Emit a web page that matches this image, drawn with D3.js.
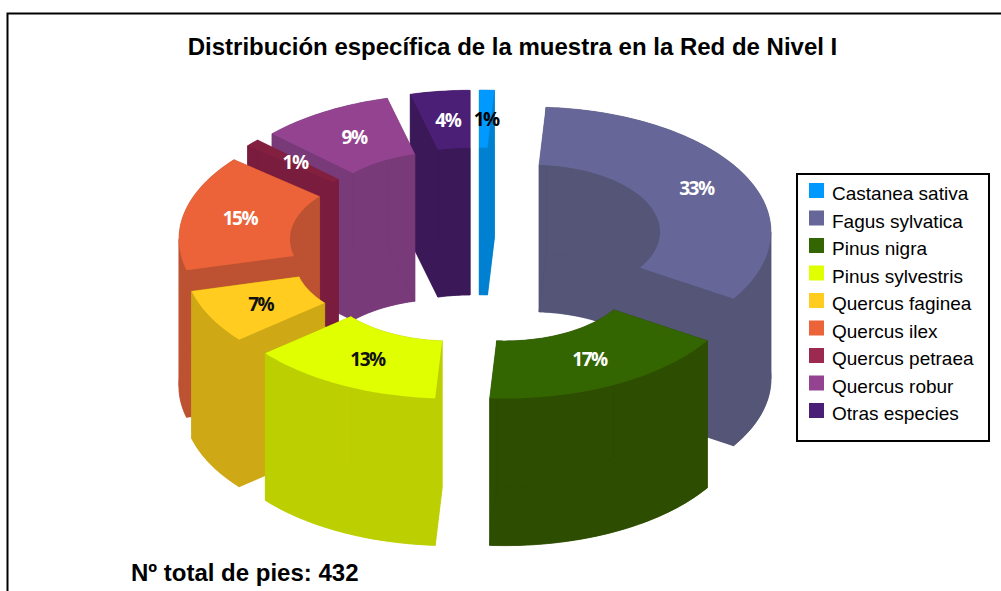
<!DOCTYPE html>
<html>
<head>
<meta charset="utf-8">
<script src="https://cdn.jsdelivr.net/npm/d3@7/dist/d3.min.js"></script>
<style>
html,body{margin:0;padding:0;background:#fff;overflow:hidden}
svg{display:block}
</style>
</head>
<body>
<svg id="chart" width="1001" height="591"></svg>
<script>
const categories = ["Castanea sativa","Fagus sylvatica","Pinus nigra","Pinus sylvestris","Quercus faginea","Quercus ilex","Quercus petraea","Quercus robur","Otras especies"];
const values = [1,33,17,13,7,15,1,9,4];
const topColors = ["#0099ff","#666699","#336600","#e0ff00","#ffcc1f","#ec6339","#832040","#934390","#4b1f76"];
const sideColors = ["#0080d0","#555578","#2d4d00","#bccf00","#cfa816","#bd5232","#7a1c3e","#783a78","#3b1858"];
const legendColors = ["#0099ff","#666699","#336600","#e0ff00","#ffcc1f","#ec6339","#9c2950","#934390","#4b1f76"];
const labelColors = ["#000","#fff","#fff","#111","#111","#fff","#fff","#fff","#fff"];
const title = "Distribución específica de la muestra en la Red de Nivel I";
const footer = "Nº total de pies: 432";

const svg = d3.select("#chart");

// frame (open at the bottom and on the right)
svg.append("path")
  .attr("d","M7.5,591V13.5H1001")
  .attr("fill","none").attr("stroke","#000").attr("stroke-width",2);

svg.append("text").attr("x",512.5).attr("y",55)
  .attr("text-anchor","middle")
  .style("font","bold 24px 'Liberation Sans'")
  .text(title);

svg.append("text").attr("x",131).attr("y",581)
  .style("font","bold 24px 'Liberation Sans'")
  .text(footer);

// projection of the tilted donut
const cx = 477.5, cy = 246, tilt = 0.52, depth = 147, explode = 60;
const outerR = 240, innerR = 129;
const sx = d3.scaleLinear().domain([0,1]).range([0,1]);
const sy = d3.scaleLinear().domain([0,1]).range([0,tilt]);
const pie = d3.pie().sort(null).value(d=>d)
  .startAngle(0).endAngle(2*Math.PI);
const arcs = pie(values).map((a,i)=>{
  const mid = (a.startAngle+a.endAngle)/2;
  return {i, a0:a.startAngle, a1:a.endAngle, mid,
    ox: cx + sx(explode*Math.sin(mid)),
    oy: cy - sy(explode*Math.cos(mid))};
});
const project = (s,r,t,dz=0)=>[s.ox + sx(r*Math.sin(t)), s.oy - sy(r*Math.cos(t)) + dz];
const anglesBetween = (a0,a1)=>{
  const n = Math.max(2,Math.ceil((a1-a0)/(Math.PI/180)));
  return d3.range(n+1).map(j=>a0+(a1-a0)*j/n);
};
const arcPts = (s,r,dz,rev)=>{
  const ts = anglesBetween(s.a0,s.a1);
  if(rev) ts.reverse();
  return ts.map(t=>project(s,r,t,dz));
};
const line = d3.line();
const closed = p => line(p)+"Z";
// a curved wall is split where it folds at the left and right silhouette,
// so each run is one polygon whose fill cannot cancel itself
const folds = [Math.PI/2, 3*Math.PI/2];
const wallRuns = (s,r)=>{
  const cuts = [s.a0, ...folds.filter(f=>f>s.a0 && f<s.a1), s.a1];
  return d3.pairs(cuts).map(([t0,t1])=>{
    const ts = anglesBetween(t0,t1);
    return ts.map(t=>project(s,r,t)).concat(ts.slice().reverse().map(t=>project(s,r,t,depth)));
  });
};

const gSlices = svg.append("g");
// painter's order: farthest slice centre first
arcs.slice().sort((a,b)=>a.oy-b.oy).forEach(s=>{
  const g = gSlices.append("g");
  const side = sideColors[s.i];
  const walls = [
    ...wallRuns(s,outerR),
    ...wallRuns(s,innerR),
    [project(s,outerR,s.a0),project(s,innerR,s.a0),project(s,innerR,s.a0,depth),project(s,outerR,s.a0,depth)],
    [project(s,outerR,s.a1),project(s,innerR,s.a1),project(s,innerR,s.a1,depth),project(s,outerR,s.a1,depth)],
    arcPts(s,outerR,depth,false).concat(arcPts(s,innerR,depth,true))
  ];
  g.selectAll("path.wall").data(walls).join("path").attr("class","wall")
    .attr("d",closed).attr("fill",side).attr("stroke",side).attr("stroke-width",0.5);
  g.append("path")
    .attr("d",closed(arcPts(s,outerR,0,false).concat(arcPts(s,innerR,0,true))))
    .attr("fill",topColors[s.i]);
});

// percentage labels at mid radius of each top face
const gLabels = svg.append("g");
arcs.forEach(s=>{
  const p = project(s,(outerR+innerR)/2,s.mid);
  gLabels.append("text")
    .attr("x",p[0]+1).attr("y",p[1]+7)
    .attr("text-anchor","middle")
    .attr("fill",labelColors[s.i])
    .style("font","bold 19px 'Open Sans'")
    .style("letter-spacing","-1.5px")
    .text(values[s.i]+"%");
});

// legend
const legend = svg.append("g");
legend.append("rect").attr("x",797).attr("y",174).attr("width",192).attr("height",267)
  .attr("fill","#fff").attr("stroke","#000").attr("stroke-width",2);
const ly = d3.scaleBand().domain(categories).range([177,177+27.5*9]);
const items = legend.selectAll("g.item").data(categories).join("g").attr("class","item")
  .attr("transform",d=>`translate(0,${ly(d)})`);
items.append("rect").attr("x",809).attr("y",6).attr("width",15).attr("height",15)
  .attr("fill",(d,i)=>legendColors[i]);
items.append("text").attr("x",832).attr("y",23)
  .style("font","19px 'Liberation Sans'")
  .text(d=>d);
</script>
</body>
</html>
